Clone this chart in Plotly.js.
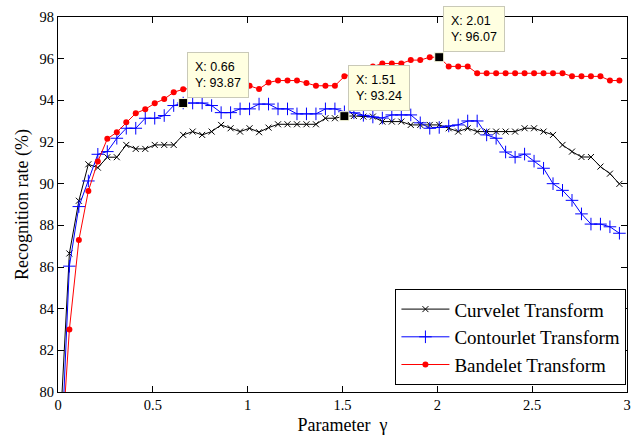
<!DOCTYPE html>
<html>
<head>
<meta charset="utf-8">
<script src="https://cdn.plot.ly/plotly-3.0.1.min.js"></script>
<style>
html,body{margin:0;padding:0;background:#fff;}
#chart{width:631px;height:435px;}
</style>
</head>
<body>
<div id="chart"></div>
<script>
// Parameter gamma values
const gamma = [0.01,0.06,0.11,0.16,0.21,0.26,0.31,0.36,0.41,0.46,
  0.51,0.56,0.61,0.66,0.71,0.76,0.81,0.86,0.91,0.96,
  1.01,1.06,1.11,1.16,1.21,1.26,1.31,1.36,1.41,1.46,
  1.51,1.56,1.61,1.66,1.71,1.76,1.81,1.86,1.91,1.96,
  2.01,2.06,2.11,2.16,2.21,2.26,2.31,2.36,2.41,2.46,
  2.51,2.56,2.61,2.66,2.71,2.76,2.81,2.86,2.91,2.96];

const curvelet = [78.0,86.65,89.18,90.93,90.77,91.27,91.27,91.86,91.67,91.67,
  91.86,91.86,91.86,92.34,92.5,92.34,92.5,92.82,92.66,92.5,
  92.66,92.47,92.69,92.85,92.85,92.85,92.85,92.85,93.14,93.14,
  93.24,93.25,93.22,93.22,92.98,92.98,92.98,92.82,92.82,92.82,
  92.82,92.66,92.5,92.66,92.5,92.5,92.5,92.5,92.5,92.66,
  92.66,92.5,92.34,91.86,91.54,91.28,91.28,90.82,90.48,89.99];

const contourlet = [75.5,86.04,88.9,90.13,91.41,91.54,92.18,92.66,92.66,93.14,
  93.14,93.27,93.75,93.87,93.87,93.87,93.75,93.41,93.41,93.59,
  93.59,93.82,93.82,93.59,93.59,93.35,93.35,93.35,93.59,93.59,
  93.45,93.4,93.28,93.2,93.15,93.3,93.3,93.3,92.92,92.66,
  92.7,92.77,92.82,93.01,93.01,92.34,92.18,91.52,91.27,91.42,
  91.08,90.74,90.0,89.68,89.2,88.55,88.06,88.06,87.93,87.62];

const bandelet = [76.0,83.0,87.29,89.65,91.06,92.15,92.47,92.95,93.38,93.57,
  93.86,94.06,94.39,94.53,94.6,94.65,94.7,94.75,94.7,94.7,
  94.7,94.54,94.86,94.95,94.95,94.95,94.83,94.7,94.7,94.7,
  95.15,95.33,95.48,95.62,95.77,95.77,95.77,95.93,95.93,96.07,
  96.07,95.63,95.63,95.63,95.3,95.3,95.3,95.3,95.3,95.3,
  95.3,95.3,95.3,95.3,95.15,95.15,95.15,95.15,94.95,94.95];

// Data tips
const tipX = [0.66, 1.51, 2.01];
const tipY = [93.87, 93.24, 96.07];

const serif = 'Liberation Serif';
const sans = 'Liberation Sans';

const traces = [
  {x: gamma, y: curvelet, name: 'Curvelet Transform', mode: 'lines+markers',
   line: {color: '#000000', width: 1},
   marker: {symbol: 'x-thin-open', size: 6, color: '#000000', line: {color: '#000000', width: 1}}},
  {x: gamma, y: contourlet, name: 'Contourlet Transform', mode: 'lines+markers',
   line: {color: '#0000ff', width: 1},
   marker: {symbol: 'cross-thin-open', size: 9, color: '#0000ff', line: {color: '#0000ff', width: 1}}},
  {x: gamma, y: bandelet, name: 'Bandelet Transform', mode: 'lines+markers',
   line: {color: '#ff0000', width: 1},
   marker: {symbol: 'circle', size: 6, color: '#ff0000'}},
  {x: tipX, y: tipY, mode: 'markers', showlegend: false, hoverinfo: 'skip',
   marker: {symbol: 'square', size: 9, color: '#000000', line: {color: '#ffffe1', width: 1}}}
];

const annotations = tipX.map((xv, k) => ({
  x: xv, y: tipY[k], xref: 'x', yref: 'y',
  text: 'X: ' + xv.toFixed(2) + '<br>Y: ' + tipY[k].toFixed(2),
  showarrow: false, xanchor: 'left', yanchor: 'bottom', align: 'left',
  xshift: 4, yshift: 5,
  bgcolor: '#ffffe1', bordercolor: '#c9c9b8', borderwidth: 1, borderpad: 7,
  font: {family: sans, size: 12.5, color: '#000'}
}));

const layout = {
  width: 631, height: 435,
  margin: {l: 58, r: 4, t: 17, b: 43, pad: 0},
  paper_bgcolor: '#ffffff', plot_bgcolor: '#ffffff',
  font: {family: serif, color: '#000'},
  xaxis: {
    range: [0, 3], tickvals: [0, 0.5, 1, 1.5, 2, 2.5, 3], ticktext: ['0','0.5','1','1.5','2','2.5','3'],
    ticks: 'inside', ticklen: 6, tickcolor: '#000', tickwidth: 1,
    showline: true, linecolor: '#000', linewidth: 1, mirror: 'allticks',
    showgrid: false, zeroline: false,
    tickfont: {family: serif, size: 14.5, color: '#000'},
    title: {text: 'Parameter  γ', font: {family: serif, size: 18, color: '#000'}, standoff: 6}
  },
  yaxis: {
    range: [80, 98], tickvals: [80,82,84,86,88,90,92,94,96,98],
    ticks: 'inside', ticklen: 6, tickcolor: '#000', tickwidth: 1,
    showline: true, linecolor: '#000', linewidth: 1, mirror: 'allticks',
    showgrid: false, zeroline: false,
    tickfont: {family: serif, size: 14.5, color: '#000'},
    title: {text: 'Recognition rate (%)', font: {family: serif, size: 18, color: '#000'}, standoff: 6}
  },
  legend: {
    x: 0.999, y: 0.018, xanchor: 'right', yanchor: 'bottom',
    bgcolor: '#ffffff', bordercolor: '#000', borderwidth: 1,
    font: {family: serif, size: 19, color: '#000'},
    itemwidth: 48, tracegroupgap: 0
  },
  annotations: annotations,
  showlegend: true
};

Plotly.newPlot('chart', traces, layout, {staticPlot: true, displayModeBar: false});
</script>
</body>
</html>
